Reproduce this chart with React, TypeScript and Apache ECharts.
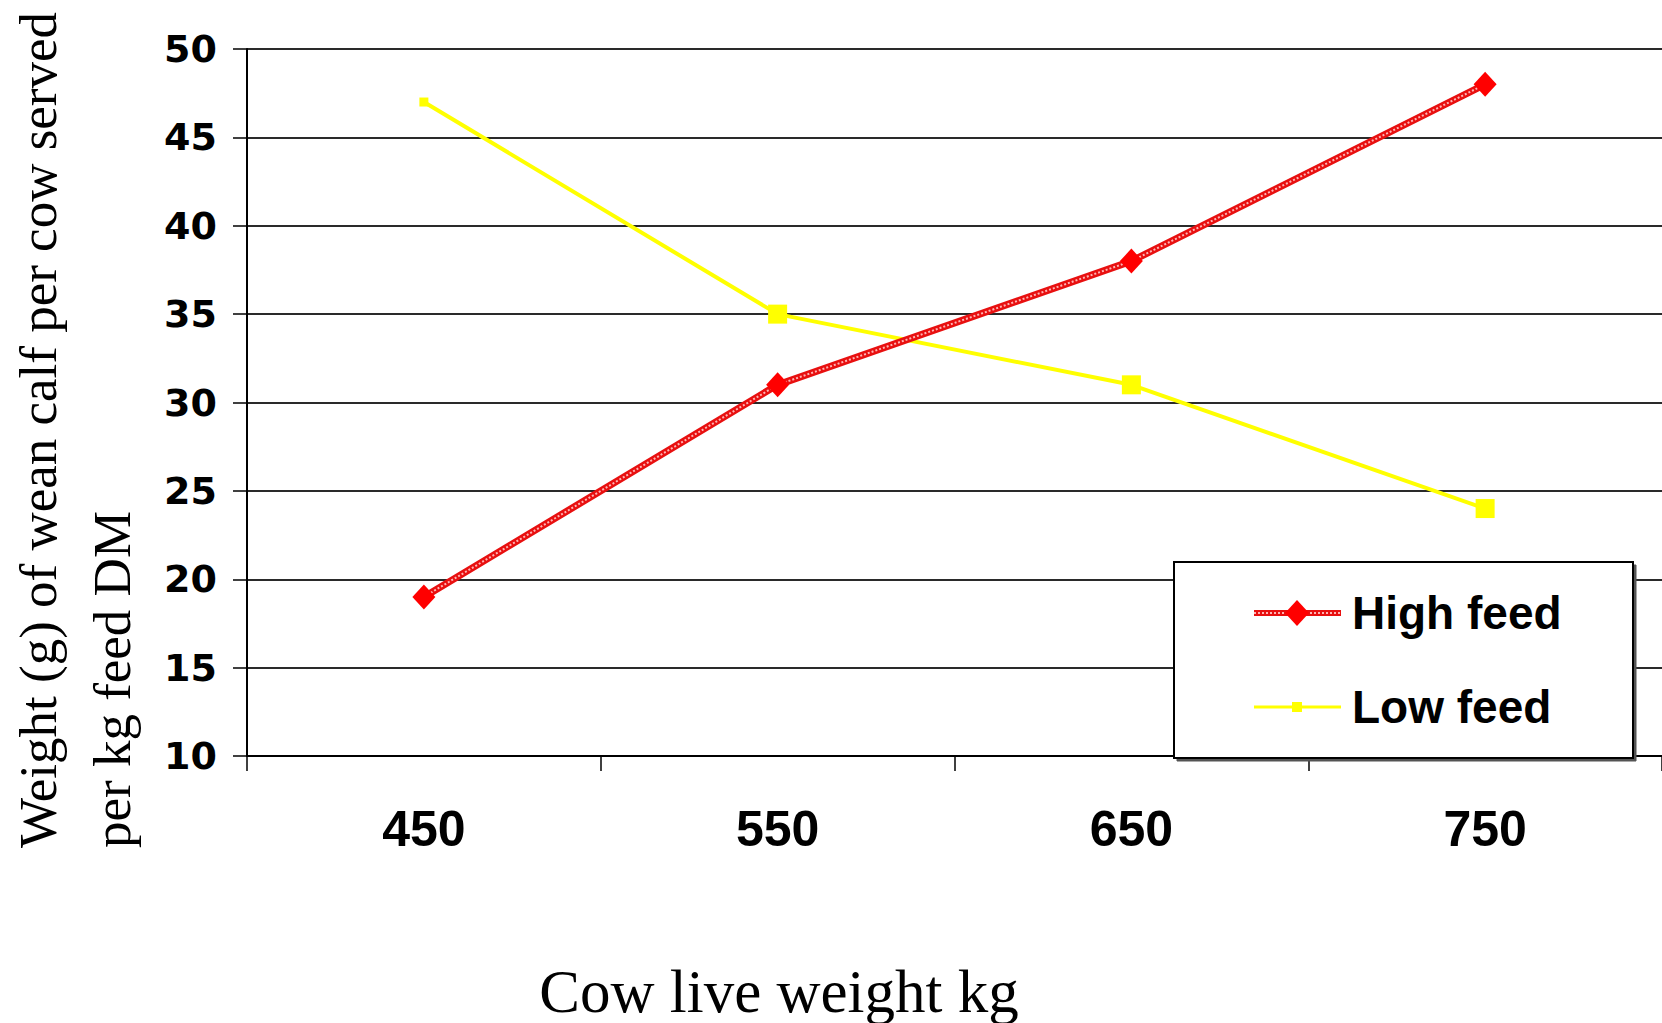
import React, { useEffect, useRef } from "react";
import * as echarts from "echarts";

const categories = ["450", "550", "650", "750"];
const highFeed = [19, 31, 38, 48];
const lowFeed = [47, 35, 31, 24];
const lowFeedSymbolSizes = [9, 19, 19, 19];
const yTicks = { min: 10, max: 50, interval: 5 };
const seriesNames = ["High feed", "Low feed"];
const xTitle = "Cow live weight kg";
const yTitleLines = ["Weight (g) of wean calf per cow served", "per kg feed DM"];

export default function App() {
  const ref = useRef<HTMLDivElement>(null);
  useEffect(() => {
    document.body.style.margin = "0";
    const chart = echarts.init(ref.current!, null, { renderer: "svg" });
    const serif = "'Liberation Serif', 'Times New Roman', serif";
    const sans = "'Liberation Sans', Arial, sans-serif";
    const legX = 1174, legY = 562, legW = 459, legH = 196;
    const iconX0 = 1254, iconX1 = 1341, iconMid = 1297;
    const row1 = 613, row2 = 707;
    chart.setOption({
      animation: false,
      backgroundColor: "#ffffff",
      grid: { left: 247, top: 49, bottom: 267, right: -5, containLabel: false },
      xAxis: {
        type: "category",
        data: categories,
        boundaryGap: true,
        axisLine: { show: true, lineStyle: { color: "#000", width: 2 } },
        axisTick: { show: true, length: 15, lineStyle: { color: "#000", width: 1.5 } },
        axisLabel: {
          margin: 48,
          color: "#000",
          fontSize: 50,
          fontWeight: "bold",
          fontFamily: "'Liberation Sans Narrow', 'Arial Narrow', 'Liberation Sans', Arial, sans-serif",
        },
        splitLine: { show: false },
      },
      yAxis: {
        type: "value",
        min: yTicks.min,
        max: yTicks.max,
        interval: yTicks.interval,
        axisLine: { show: true, onZero: false, lineStyle: { color: "#000", width: 2 } },
        axisTick: { show: true, length: 14, lineStyle: { color: "#000", width: 1.5 } },
        axisLabel: {
          margin: 30,
          color: "#000",
          fontSize: 38,
          fontWeight: "bold",
          fontFamily: "'DejaVu Sans', sans-serif",
        },
        splitLine: { show: true, lineStyle: { color: "#2a2a2a", width: 2 } },
      },
      series: [
        {
          name: seriesNames[0],
          type: "line",
          data: highFeed,
          symbol: "diamond",
          symbolSize: [23, 25],
          itemStyle: { color: "#ff0000" },
          lineStyle: { color: "#e81010", width: 7 },
          z: 3,
        },
        {
          name: seriesNames[0] + " pattern",
          type: "line",
          data: highFeed,
          symbol: "none",
          silent: true,
          lineStyle: { color: "#ffb4b4", width: 2, type: [2, 2] },
          z: 3,
        },
        {
          name: seriesNames[1],
          type: "line",
          data: lowFeed.map((v, i) => ({ value: v, symbolSize: lowFeedSymbolSizes[i] })),
          symbol: "rect",
          itemStyle: { color: "#ffff00" },
          lineStyle: { color: "#ffff00", width: 4 },
          z: 2,
        },
      ],
      graphic: [
        {
          type: "text",
          x: 779,
          y: 991,
          style: {
            text: xTitle,
            font: `61px ${serif}`,
            fill: "#000",
            align: "center",
            verticalAlign: "middle",
          },
        },
        {
          type: "text",
          x: 38,
          y: 848,
          rotation: Math.PI / 2,
          style: {
            text: yTitleLines[0],
            font: `53px ${serif}`,
            fill: "#000",
            align: "left",
            verticalAlign: "middle",
          },
        },
        {
          type: "text",
          x: 112,
          y: 848,
          rotation: Math.PI / 2,
          style: {
            text: yTitleLines[1],
            font: `53px ${serif}`,
            fill: "#000",
            align: "left",
            verticalAlign: "middle",
          },
        },
        {
          type: "group",
          z: 100,
          children: [
            {
              type: "rect",
              shape: { x: legX + 3, y: legY + 3, width: legW, height: legH },
              style: { fill: "#555", stroke: "#555", lineWidth: 1 },
              z: 100,
            },
            {
              type: "rect",
              shape: { x: legX, y: legY, width: legW, height: legH },
              style: { fill: "#fff", stroke: "#000", lineWidth: 2 },
              z: 101,
            },
            {
              type: "line",
              shape: { x1: iconX0, y1: row1, x2: iconX1, y2: row1 },
              style: { stroke: "#e81010", lineWidth: 6 },
              z: 102,
            },
            {
              type: "line",
              shape: { x1: iconX0, y1: row1, x2: iconX1, y2: row1 },
              style: { stroke: "#ffb4b4", lineWidth: 2, lineDash: [2, 2] },
              z: 103,
            },
            {
              type: "polygon",
              shape: {
                points: [
                  [iconMid, row1 - 13],
                  [iconMid + 12, row1],
                  [iconMid, row1 + 13],
                  [iconMid - 12, row1],
                ],
              },
              style: { fill: "#ff0000" },
              z: 104,
            },
            {
              type: "line",
              shape: { x1: iconX0, y1: row2, x2: iconX1, y2: row2 },
              style: { stroke: "#ffff00", lineWidth: 3 },
              z: 102,
            },
            {
              type: "rect",
              shape: { x: iconMid - 5, y: row2 - 5, width: 10, height: 10 },
              style: { fill: "#ffff00" },
              z: 104,
            },
            {
              type: "text",
              x: 1352,
              y: row1,
              style: {
                text: seriesNames[0],
                font: `bold 46px ${sans}`,
                fill: "#000",
                align: "left",
                verticalAlign: "middle",
              },
              z: 104,
            },
            {
              type: "text",
              x: 1352,
              y: row2,
              style: {
                text: seriesNames[1],
                font: `bold 46px ${sans}`,
                fill: "#000",
                align: "left",
                verticalAlign: "middle",
              },
              z: 104,
            },
          ],
        },
      ],
    });
    return () => chart.dispose();
  }, []);
  return (
    <div
      ref={ref}
      style={{ position: "absolute", left: 0, top: 0, width: 1662, height: 1023 }}
    />
  );
}
